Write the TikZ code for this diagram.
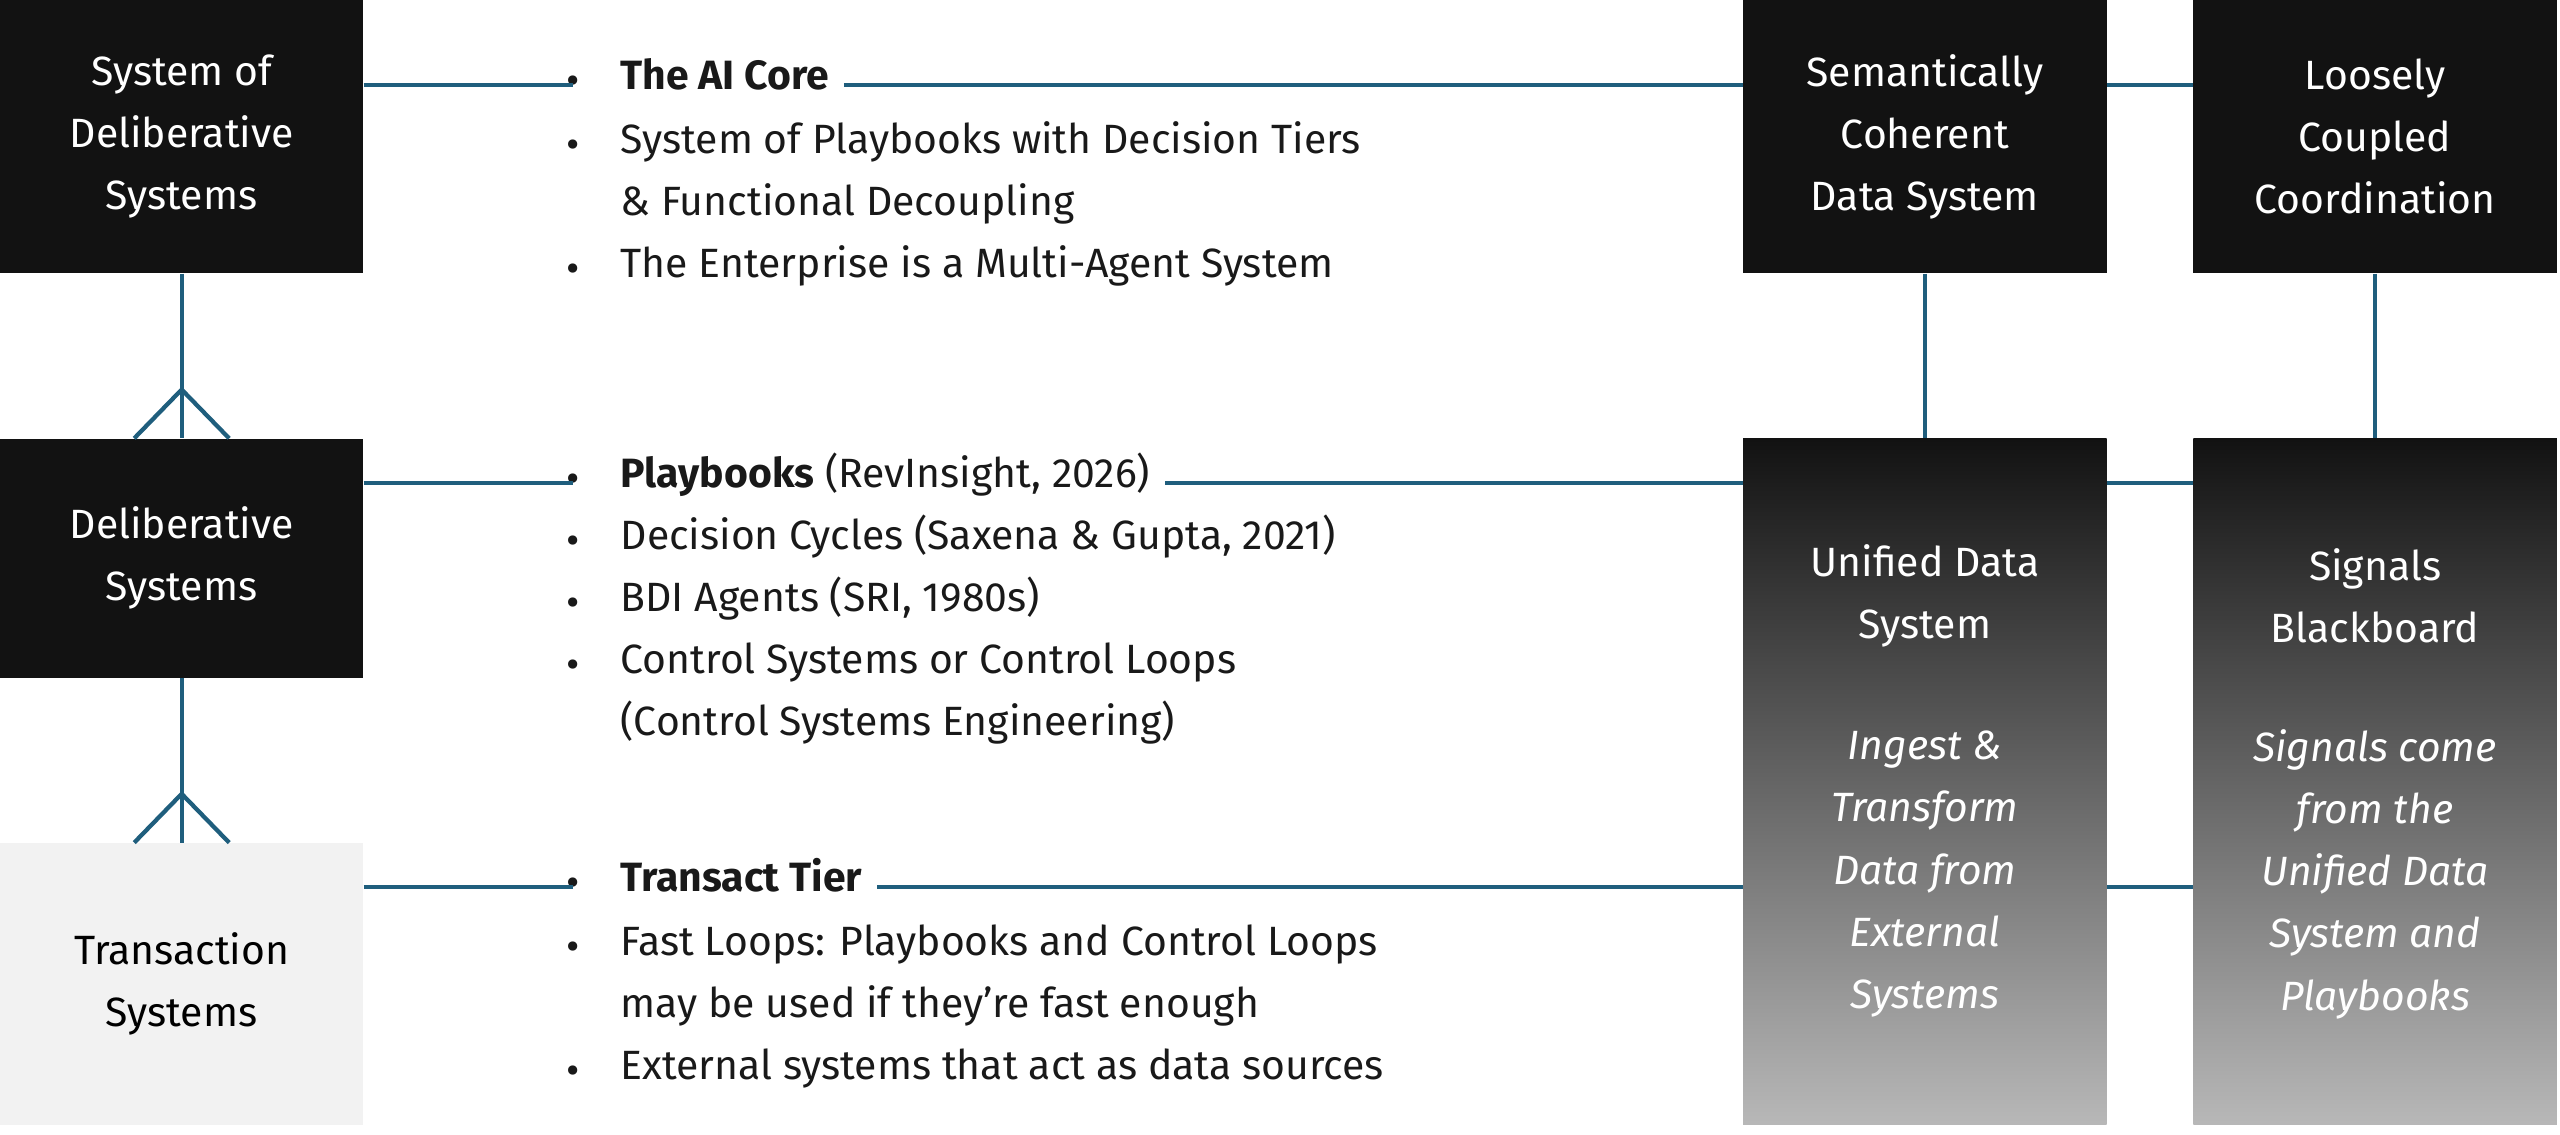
\documentclass[tikz,border=0pt]{standalone}
\usepackage{fontspec}
\setmainfont{Fira Sans}
\begin{document}
\begin{tikzpicture}[x=1pt,y=-1pt,
  fnt/.style={font=\fontsize{25}{38}\selectfont},
  blk/.style={fill=black!93,text=white,fnt,align=center,inner sep=0pt},
  lgt/.style={fill=black!5,text=black,fnt,align=center,inner sep=0pt},
  grd/.style={top color=black!93,bottom color=black!28,inner sep=0pt},
  ln/.style={draw=lc,line width=2.6pt},
  txt/.style={fnt,anchor=mid west,inner sep=0pt,text=black!90},
  bul/.style={fnt,anchor=center,inner sep=0pt,text=black!90}]
\definecolor{lc}{RGB}{31,94,125}
\useasboundingbox (0,0) rectangle (1564,693);
% left boxes
\node[blk,minimum width=222,minimum height=167] (A) at (111,83.5) {System of\\Deliberative\\Systems};
\node[blk,minimum width=222,minimum height=146] (B) at (111,341) {Deliberative\\Systems};
\node[lgt,minimum width=222,minimum height=172] (C) at (111,601) {Transaction\\Systems};
% right boxes
\node[blk,minimum width=222,minimum height=167] (D) at (1176,83.5) {Semantically\\Coherent\\Data System};
\node[blk,minimum width=222,minimum height=167] (E) at (1451,83.5) {Loosely\\Coupled\\Coordination};
\node[grd,minimum width=222,minimum height=419] (F) at (1176,477.5) {};
\node[grd,minimum width=222,minimum height=419] (G) at (1451,477.5) {};
\node[fnt,text=white,align=center,inner sep=0pt] (Ft) at (1176,364) {Unified Data\\System};
\node[fnt,text=white,align=center,inner sep=0pt,font=\fontsize{25}{38}\selectfont\itshape] (Fi) at (1176,534) {Ingest \&\\Transform\\Data from\\External\\Systems};
\node[fnt,text=white,align=center,inner sep=0pt] (Gt) at (1451,364) {Signals\\Blackboard};
\node[fnt,text=white,align=center,inner sep=0pt,font=\fontsize{25}{38}\selectfont\itshape] (Gi) at (1451,534) {Signals come\\from the\\Unified Data\\System and\\Playbooks};
% list 1
\node[bul] (b1) at (350,52) {•};
\node[txt] (t1) at (379,52) {\textbf{The AI Core}};
\node[bul] at (350,91) {•};
\node[txt] at (379,91) {System of Playbooks with Decision Tiers};
\node[txt] at (379,129) {\& Functional Decoupling};
\node[bul] at (350,167) {•};
\node[txt] at (379,167) {The Enterprise is a Multi-Agent System};
% list 2
\node[bul] (b2) at (350,295) {•};
\node[txt] (t2) at (379,295) {\textbf{Playbooks} (RevInsight, 2026)};
\node[bul] at (350,333) {•};
\node[txt] at (379,333) {Decision Cycles (Saxena \& Gupta, 2021)};
\node[bul] at (350,371) {•};
\node[txt] at (379,371) {BDI Agents (SRI, 1980s)};
\node[bul] at (350,409) {•};
\node[txt] at (379,409) {Control Systems or Control Loops};
\node[txt] at (379,447) {(Control Systems Engineering)};
% list 3
\node[bul] (b3) at (350,542) {•};
\node[txt] (t3) at (379,542) {\textbf{Transact Tier}};
\node[bul] at (350,581) {•};
\node[txt] at (379,581) {Fast Loops: Playbooks and Control Loops};
\node[txt] at (379,619) {may be used if they’re fast enough};
\node[bul] at (350,657) {•};
\node[txt] at (379,657) {External systems that act as data sources};
% connectors
\draw[ln] (A.east |- b1) -- (b1.center);
\draw[ln] (B.east |- b2) -- (b2.center);
\draw[ln] (C.east |- b3) -- (b3.center);
\draw[ln] ([xshift=9pt]t1.mid east) -- (D.west |- t1.mid);
\draw[ln] ([xshift=9pt]t2.mid east) -- (F.west |- t2.mid);
\draw[ln] ([xshift=9pt]t3.mid east) -- (F.west |- t3.mid);
\draw[ln] (D.east |- 0,52) -- (E.west |- 0,52);
\draw[ln] (F.east |- 0,295) -- (G.west |- 0,295);
\draw[ln] (F.east |- 0,542) -- (G.west |- 0,542);
\draw[ln] (D.south) -- (F.north);
\draw[ln] (E.south) -- (G.north);
\draw[ln] (A.south) -- (B.north);
\draw[ln] (B.south) -- (C.north);
\coordinate (cf1) at (111,238);
\coordinate (cf2) at (111,485);
\draw[ln] ([xshift=-29]B.north) -- (cf1) -- ([xshift=29]B.north);
\draw[ln] ([xshift=-29]C.north) -- (cf2) -- ([xshift=29]C.north);
\end{tikzpicture}
\end{document}
